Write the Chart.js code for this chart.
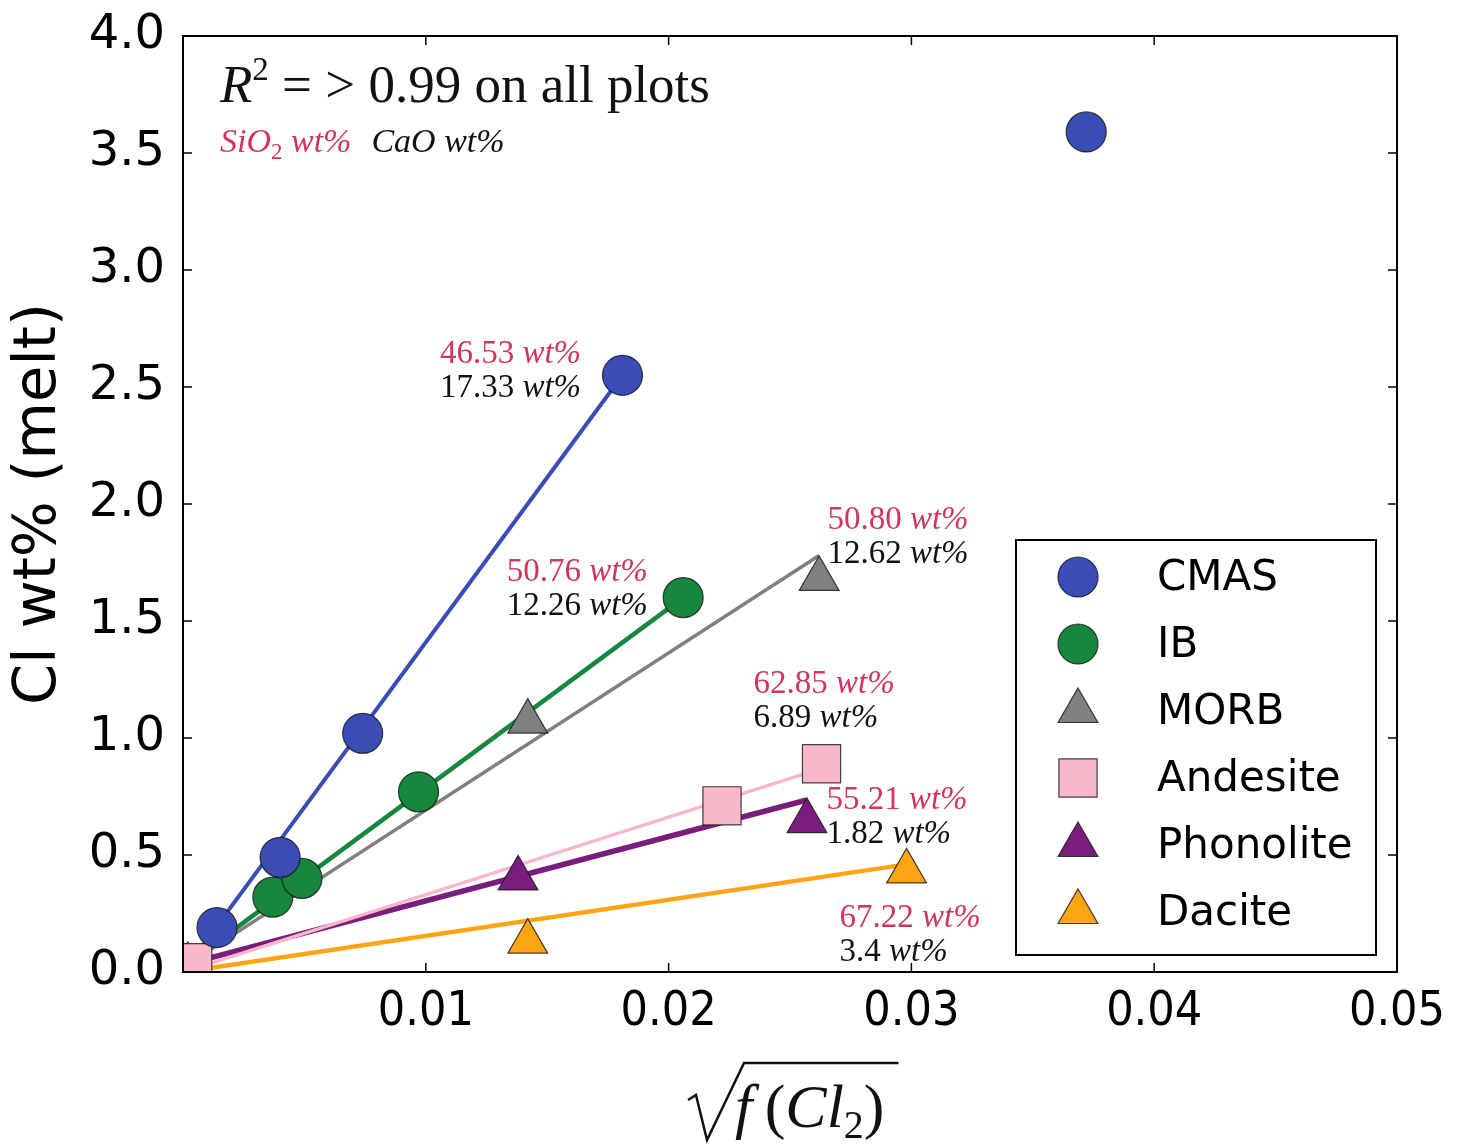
<!DOCTYPE html>
<html>
<head>
<meta charset="utf-8">
<script src="https://cdn.jsdelivr.net/npm/chart.js@4.4.0/dist/chart.umd.min.js"></script>
<style>
  body { margin: 0; background: #fff; }
  #wrap { width: 1474px; height: 1146px; }
</style>
</head>
<body>
<div id="wrap"><canvas id="chart" width="1474" height="1146"></canvas></div>
<script>
// data: x = sqrt(f(Cl2)), y = Cl wt% (melt)
const seriesNames = ["CMAS", "IB", "MORB", "Andesite", "Phonolite", "Dacite"];

const cmasX = [0.0014, 0.0040, 0.0074, 0.0181, 0.0372];
const cmasY = [0.19, 0.49, 1.02, 2.55, 3.59];
const ibX = [0.0037, 0.0049, 0.0097, 0.0206];
const ibY = [0.32, 0.40, 0.77, 1.60];
const morbX = [0.0142, 0.0262];
const morbY = [1.07, 1.68];
const andesiteX = [0.0004, 0.0222, 0.0263];
const andesiteY = [0.04, 0.71, 0.89];
const phonoliteX = [0.0138, 0.0257];
const phonoliteY = [0.40, 0.645];
const daciteX = [0.0002, 0.0142, 0.0298];
const daciteY = [0.03, 0.13, 0.43];

// linear fits (start, end)
const cmasFitX = [0, 0.0181], cmasFitY = [0.0, 2.55];
const ibFitX = [0, 0.0206], ibFitY = [0.02, 1.60];
const morbFitX = [0, 0.0262], morbFitY = [0.02, 1.78];
const andesiteFitX = [0, 0.0263], andesiteFitY = [0.0, 0.87];
const phonoliteFitX = [0, 0.0257], phonoliteFitY = [0.03, 0.735];
const daciteFitX = [0, 0.0298], daciteFitY = [0.0, 0.46];

const xTicks = [0.01, 0.02, 0.03, 0.04, 0.05];
const yTicks = [0, 0.5, 1, 1.5, 2, 2.5, 3, 3.5, 4];

// SiO2 / CaO labels next to the last point of each series
const sio2Labels = ["46.53", "50.76", "50.80", "62.85", "55.21", "67.22"];
const caoLabels = ["17.33", "12.26", "12.62", "6.89", "1.82", "3.4"];
const labelX = [0.01058, 0.01333, 0.02654, 0.02350, 0.02650, 0.02704];
const labelY = [2.603, 1.671, 1.893, 1.192, 0.697, 0.192];

const colors = ["#3a4cb5", "#17873d", "#808080", "#f9b8ca", "#7b1d7e", "#ffa412"];
const styles = ["circle", "circle", "triangle", "rect", "triangle", "triangle"];
const radii = [20, 20, 23, 27, 23, 23];
const fitWidths = [4, 4.5, 3.5, 3.5, 5.5, 4.5];

const RED = "#d2355a";
const SERIF = "'Liberation Serif', 'DejaVu Serif', serif";
const SANS = "'DejaVu Sans', sans-serif";

function pts(xs, ys) {
  return xs.map((x, i) => ({ x: x, y: ys[i] }));
}

const pointSets = [[cmasX, cmasY], [ibX, ibY], [morbX, morbY], [andesiteX, andesiteY], [phonoliteX, phonoliteY], [daciteX, daciteY]];
const fitSets = [[cmasFitX, cmasFitY], [ibFitX, ibFitY], [morbFitX, morbFitY], [andesiteFitX, andesiteFitY], [phonoliteFitX, phonoliteFitY], [daciteFitX, daciteFitY]];

const datasets = [];
seriesNames.forEach((name, i) => {
  datasets.push({
    label: name,
    data: pts(pointSets[i][0], pointSets[i][1]),
    showLine: false,
    pointStyle: styles[i],
    pointRadius: radii[i],
    pointHoverRadius: radii[i],
    backgroundColor: colors[i],
    borderColor: "rgba(20,20,20,0.8)",
    borderWidth: 1.2,
    order: 0
  });
});
seriesNames.forEach((name, i) => {
  datasets.push({
    label: name + " fit",
    data: pts(fitSets[i][0], fitSets[i][1]),
    showLine: true,
    pointRadius: 0,
    borderColor: colors[i],
    borderWidth: fitWidths[i],
    fill: false,
    order: 1
  });
});

// writes pieces of text one after another: [text, font, color, dy]
function drawRuns(ctx, x, y, runs) {
  let cx = x;
  runs.forEach(r => {
    ctx.font = r[1];
    ctx.fillStyle = r[2];
    ctx.fillText(r[0], cx, y + (r[3] || 0));
    cx += ctx.measureText(r[0]).width;
  });
  return cx;
}

const extras = {
  id: "extras",
  afterDatasetsDraw(chart) {
    const ctx = chart.ctx;
    const ca = chart.chartArea;
    const xs = chart.scales.x, ys = chart.scales.y;
    ctx.save();

    // frame + inward ticks on all four sides
    ctx.strokeStyle = "#000";
    ctx.lineWidth = 2;
    ctx.strokeRect(ca.left, ca.top, ca.right - ca.left, ca.bottom - ca.top);
    ctx.lineWidth = 1.5;
    ctx.beginPath();
    xTicks.forEach(v => {
      const px = xs.getPixelForValue(v);
      ctx.moveTo(px, ca.bottom); ctx.lineTo(px, ca.bottom - 9);
      ctx.moveTo(px, ca.top); ctx.lineTo(px, ca.top + 9);
    });
    yTicks.forEach(v => {
      const py = ys.getPixelForValue(v);
      ctx.moveTo(ca.left, py); ctx.lineTo(ca.left + 9, py);
      ctx.moveTo(ca.right, py); ctx.lineTo(ca.right - 9, py);
    });
    ctx.stroke();

    // point annotations
    ctx.textAlign = "left";
    ctx.textBaseline = "alphabetic";
    sio2Labels.forEach((s, i) => {
      const px = xs.getPixelForValue(labelX[i]);
      const py = ys.getPixelForValue(labelY[i]);
      drawRuns(ctx, px, py, [[s + " ", "33px " + SERIF, RED], ["wt%", "italic 33px " + SERIF, RED]]);
      drawRuns(ctx, px, py + 34, [[caoLabels[i] + " ", "33px " + SERIF, "#111"], ["wt%", "italic 33px " + SERIF, "#111"]]);
    });

    // header text
    const hx = ca.left + 37;
    drawRuns(ctx, hx, ca.top + 66, [
      ["R", "italic 53px " + SERIF, "#111"],
      ["2", "33px " + SERIF, "#111", -22],
      [" = > 0.99 on all plots", "53px " + SERIF, "#111"]
    ]);
    let ex = drawRuns(ctx, hx, ca.top + 116, [
      ["SiO", "italic 34px " + SERIF, RED],
      ["2", "23px " + SERIF, RED, 7],
      [" wt%", "italic 34px " + SERIF, RED]
    ]);
    drawRuns(ctx, ex + 20, ca.top + 116, [["CaO wt%", "italic 34px " + SERIF, "#111"]]);

    // x axis title: sqrt(f(Cl2))
    const cx = (ca.left + ca.right) / 2;
    const by = ca.bottom + 155;
    const tEnd = drawRuns(ctx, cx - 55, by, [
      ["f", "italic 62px " + SERIF, "#111"],
      ["\u2009(", "62px " + SERIF, "#111"],
      ["Cl", "italic 62px " + SERIF, "#111"],
      ["2", "40px " + SERIF, "#111", 11],
      [")", "62px " + SERIF, "#111"]
    ]);
    ctx.strokeStyle = "#111";
    ctx.lineWidth = 2.5;
    ctx.beginPath();
    ctx.moveTo(cx - 102, by - 27);
    ctx.lineTo(cx - 94, by - 32);
    ctx.lineTo(cx - 83, by + 13);
    ctx.lineTo(cx - 46, by - 64);
    ctx.lineTo(tEnd + 14, by - 64);
    ctx.stroke();

    // legend box
    const lx = ca.right - 381, ly = ca.top + 504;
    ctx.fillStyle = "#fff";
    ctx.fillRect(lx, ly, 360, 415);
    ctx.strokeStyle = "#000";
    ctx.lineWidth = 2;
    ctx.strokeRect(lx, ly, 360, 415);
    seriesNames.forEach((name, i) => {
      const my = ly + 37 + i * 67;
      ctx.fillStyle = colors[i];
      ctx.strokeStyle = "rgba(20,20,20,0.8)";
      ctx.lineWidth = 1.2;
      Chart.helpers.drawPoint(ctx, { pointStyle: styles[i], radius: radii[i], borderWidth: 1.2, rotation: 0 }, lx + 62, my);
      ctx.fillStyle = "#000";
      ctx.font = "42px " + SANS;
      ctx.textBaseline = "middle";
      ctx.fillText(name, lx + 141, my + 2);
    });
    ctx.restore();
  }
};

new Chart(document.getElementById("chart"), {
  type: "scatter",
  data: { datasets: datasets },
  options: {
    responsive: false,
    animation: false,
    devicePixelRatio: 1,
    layout: { padding: { top: 36, right: 77, left: 0, bottom: 0 } },
    plugins: {
      legend: { display: false },
      tooltip: { enabled: false }
    },
    scales: {
      x: {
        type: "linear",
        min: 0,
        max: 0.05,
        afterFit: s => { s.height = 174; },
        afterBuildTicks: s => { s.ticks = xTicks.map(v => ({ value: v })); },
        grid: { display: false, drawTicks: false },
        border: { display: true, color: "#000", width: 2 },
        ticks: {
          padding: 12,
          color: "#000",
          font: { family: "'DejaVu Sans Condensed', 'Liberation Sans Narrow', 'DejaVu Sans', sans-serif", size: 48 },
          callback: v => v.toFixed(2)
        },
        title: { display: false }
      },
      y: {
        type: "linear",
        min: 0,
        max: 4,
        afterFit: s => { s.width = 183; },
        afterBuildTicks: s => { s.ticks = yTicks.map(v => ({ value: v })); },
        grid: { display: false, drawTicks: false },
        border: { display: true, color: "#000", width: 2 },
        ticks: {
          padding: 18,
          color: "#000",
          font: { family: SANS, size: 48, lineHeight: 0.5 },
          callback: v => v.toFixed(1)
        },
        title: {
          display: true,
          text: "Cl wt% (melt)",
          color: "#000",
          font: { family: SANS, size: 59 },
          padding: { top: 4, bottom: 0 }
        }
      }
    }
  },
  plugins: [extras]
});
</script>
</body>
</html>
